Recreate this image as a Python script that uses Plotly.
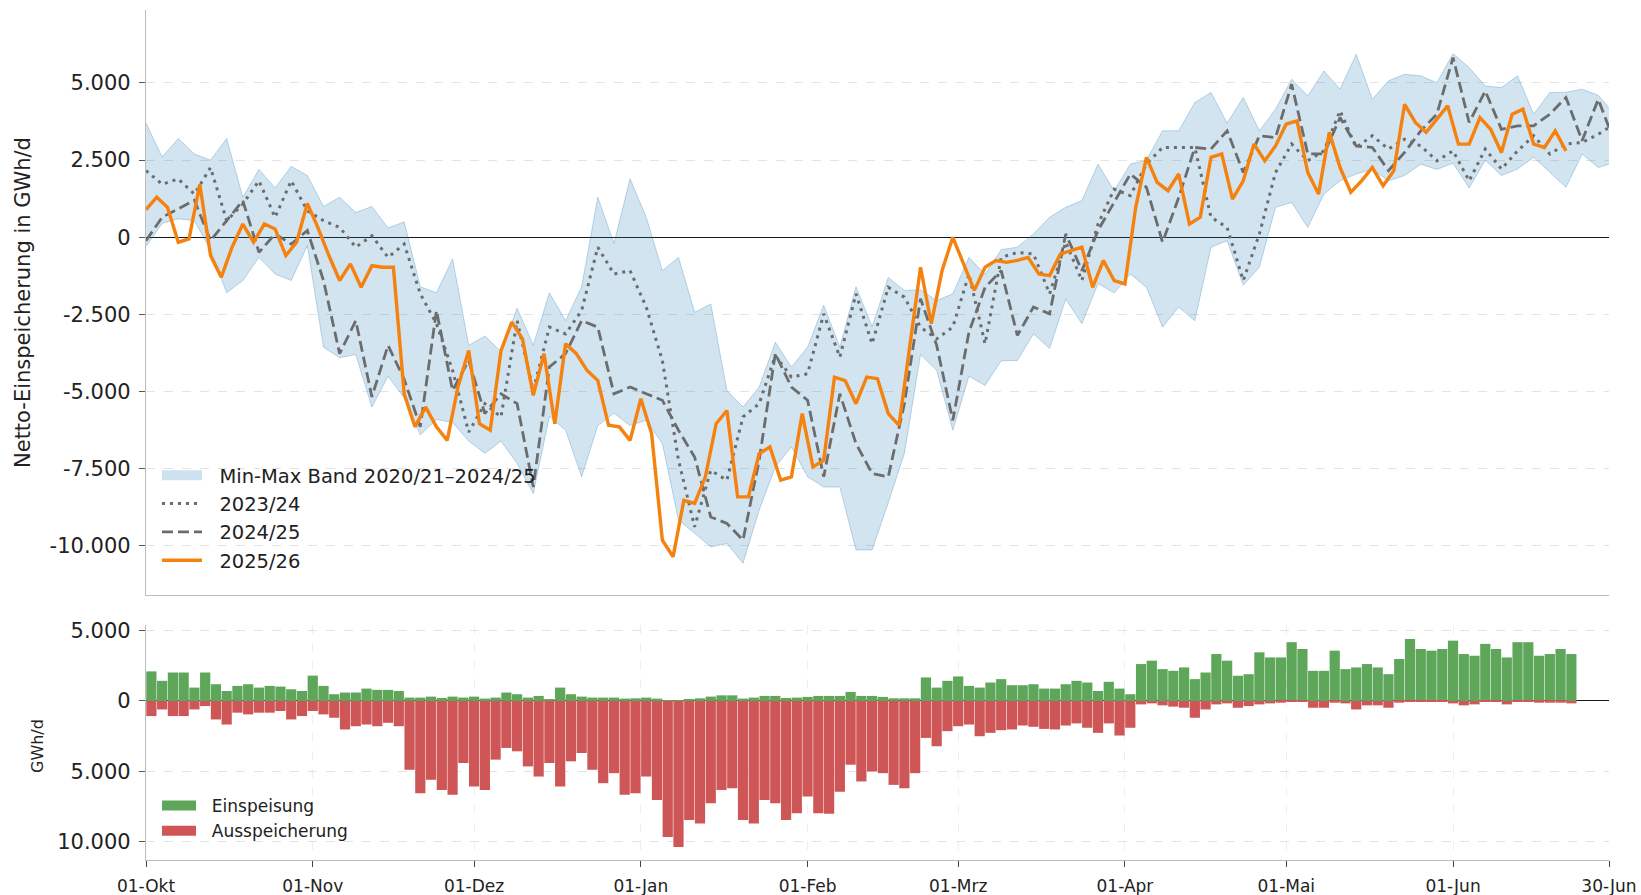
import pandas as pd
import plotly.graph_objects as go

# ---------------- data ----------------
season_start = "2025-10-01"
hist_days = list(range(0, 271, 3)) + [272]      # sampling of historic curves (days since 01-Okt)
cur_days = list(range(0, 265, 2))               # sampling of 2025/26 curve and bars

band_max = [3700, 2600, 3200, 2700, 2500, 3200, 1300, 2200, 1600, 2300, 2000, 1000, 1300, 800, 1000, 300,
            500, -1600, -1800, -700, -3500, -3200, -3700, -2300, -3500, -1800, -2700, -1600, 1300, -200, 1900,
            650, -1080, -650, -2430, -2160, -4960, -5500, -4850, -3400, -4200, -3560, -2200, -3560, -1600, -2900,
            -1300, -1720, -1700, -2050, -1830, -650, -1200, -400, -320, 110, 650, 970, 1190, 2370, 1510,
            2370, 2500, 3450, 3450, 4370, 4690, 3700, 4530, 3450, 4150, 5120, 4580, 5390, 4800, 5930,
            4470, 5070, 5280, 5230, 5010, 5950, 5500, 4900, 4850, 5230, 3990, 4690, 4700, 4800, 4600, 4200]

band_min = [-300, 450, 600, 540, -400, -1800, -1400, -650, -1190, -1400, -270, -3560, -3900, -3800, -5500, -4500,
            -5200, -6400, -5900, -6000, -6600, -7000, -6600, -7330, -8300, -5800, -6250, -7760, -6100, -5700, -6100,
            -5930, -6680, -9160, -9590, -10030, -9920, -10560, -8840, -7440, -6790, -7760, -8090, -8090, -10130, -10130,
            -8600, -7000, -3800, -4310, -6250, -4500, -4800, -4000, -3990, -3130, -3600, -2000, -2800, -1500, -1800,
            -1190, -1620, -2910, -2260, -2700, -320, -110, -1550, -970, 970, 1130, 320, 1400, 1830, 2050,
            2200, 1830, 2000, 2370, 2200, 2400, 1600, 2500, 2000, 2210, 2590, 2100, 1620, 2700, 2260, 2370]

y2023_24 = [2160, 1720, 1890, 1400, 2260, 540, 1080, 1830, 650, 1830, 860, 540, 320, -320, 50, -650,
            -220, -1830, -2800, -4310, -6310, -5390, -5820, -2700, -4960, -2910, -3130, -2370, -320, -1190, -1080,
            -2260, -3990, -7220, -9380, -7550, -7870, -5820, -5390, -3830, -4530, -4420, -2480, -3880, -1830, -3450,
            -1620, -1940, -2910, -3290, -2910, -1190, -3450, -650, -490, -540, -1830, -160, -1400, 430, 1560,
            1350, 2370, 2910, 2910, 2910, 650, 320, -1400, 110, 2100, 3020, 2480, 2800, 4100, 2910,
            3290, 2860, 3180, 2960, 2480, 2800, 1830, 2860, 2210, 2800, 3290, 2700, 3020, 3070, 3340, 3560]

y2024_25 = [-110, 650, 920, 1200, -110, 540, 1190, -490, 110, -220, 220, -1400, -3770, -2700, -5170, -3500,
            -4600, -6140, -2370, -4960, -3990, -5710, -5070, -5390, -8090, -4200, -3770, -2700, -2910, -5070, -4850,
            -5070, -5280, -6250, -7120, -9060, -9270, -9810, -7220, -3770, -4850, -5280, -7760, -5070, -6680, -7650,
            -7760, -5390, -1990, -3500, -5930, -3070, -1620, -1080, -3180, -2260, -2480, 110, -1080, 220, 1130,
            2050, 1620, -160, 1290, 2910, 2860, 3450, 2100, 3290, 3230, 4960, 2700, 2700, 3880, 2960,
            2910, 2160, 2750, 3450, 3990, 5820, 3720, 4740, 3500, 3610, 3610, 3990, 4530, 3130, 4470, 3560]

y2025_26 = [900, 1300, 970, -160, -50, 1720, -590, -1290, -320, 430, -160, 430, 270, -590, -160, 1100, 300, -590,
            -1400, -860, -1620, -920, -970,
            -970, -5070, -6140, -5500, -6140, -6580, -4850, -3670, -6040, -6250, -3670, -2750, -3290, -5120, -3770,
            -6040, -3450, -3770, -4310, -4640, -6090, -6140, -6580,
            -5230, -6360, -9810, -10350, -8520, -8620, -7760, -6040, -5610, -8410, -8410, -7010, -6790, -7870, -7760,
            -5710, -7440, -7220, -4530, -4640, -5390, -4530,
            -4580, -5710, -6090, -3560, -970, -2800, -1080, 0, -860, -1720, -970, -750, -810, -750, -650, -1190,
            -1240, -540, -430, -320, -1620, -750, -1400, -1510,
            970, 2590, 1780, 1510, 2050, 430, 650, 2590, 2700, 1240, 1830, 3020, 2480, 2960, 3670, 3770, 2100, 1400,
            3400, 2260, 1460, 1830, 2260,
            1670, 2160, 4310, 3720, 3400, 3830, 4260, 3020, 3020, 3880, 3500, 2750, 3990, 4150, 3020, 2910, 3450, 2800]

einspeisung = [2100, 1430, 2020, 2020, 950, 2020, 1190, 710, 1070, 1190, 950, 1070, 1020, 830, 710, 1800, 1070, 480,
               600, 600, 880, 790, 790,
               710, 240, 240, 310, 210, 310, 240, 310, 170, 240, 600, 480, 240, 360, 120, 950, 480, 310, 240, 240,
               240, 170, 190,
               240, 170, 70, 70, 120, 190, 310, 400, 400, 170, 240, 360, 360, 210, 240, 290, 360, 360, 360, 640,
               360, 360,
               290, 190, 190, 190, 1670, 950, 1430, 1740, 1070, 950, 1310, 1550, 1120, 1120, 1190, 880, 880, 1190,
               1430, 1310, 710, 1360, 880, 480,
               2620, 2860, 2260, 2140, 2380, 1550, 2020, 3330, 2860, 1790, 1900, 3450, 3090, 3090, 4170, 3690, 2140,
               2140, 3570, 2260, 2380, 2620, 2380,
               1900, 2980, 4400, 3690, 3570, 3690, 4280, 3330, 3210, 4050, 3690, 3090, 4170, 4170, 3210, 3330, 3690,
               3330]

ausspeicherung = [1070, 600, 1070, 1070, 600, 360, 1310, 1670, 830, 950, 830, 830, 710, 1310, 1070, 710, 950, 1190,
                  2020, 1790, 1670, 1790, 1550,
                  1790, 4880, 6550, 5590, 6310, 6660, 4400, 6070, 6310, 4160, 3330, 3570, 4640, 5360, 4400, 6070,
                  4280, 3690, 4880, 5830, 5120, 6660, 6550,
                  5360, 7020, 9640, 10350, 8450, 8690, 7260, 6310, 6190, 8450, 8690, 7020, 7260, 8450, 7970, 6780,
                  7970, 8000, 6430, 4520, 5710, 5000,
                  5120, 5950, 6190, 5120, 2620, 3210, 2140, 1790, 1670, 2500, 2260, 2070, 2020, 1740, 1830, 1980,
                  2020, 1740, 1590, 1900, 2260, 1590, 2450, 1900,
                  240, 170, 310, 400, 480, 1190, 600, 240, 170, 480, 360, 240, 170, 120, 70, 70, 480, 480, 120, 170,
                  600, 310, 310,
                  480, 120, 70, 70, 70, 70, 170, 310, 240, 70, 70, 240, 70, 70, 120, 120, 120, 170]

month_ticks = ["2025-10-01", "2025-11-01", "2025-12-01", "2026-01-01", "2026-02-01", "2026-03-01",
               "2026-04-01", "2026-05-01", "2026-06-01", "2026-06-30"]
month_labels = ["01-Okt", "01-Nov", "01-Dez", "01-Jan", "01-Feb", "01-Mrz", "01-Apr", "01-Mai", "01-Jun", "30-Jun"]
top_ticks = [5000, 2500, 0, -2500, -5000, -7500, -10000]
top_labels = ["5.000", "2.500", "0", "-2.500", "-5.000", "-7.500", "-10.000"]
bot_ticks = [5000, 0, -5000, -10000]
bot_labels = ["5.000", "0", "5.000", "10.000"]

# ---------------- figure ----------------
start = pd.Timestamp(season_start)
hx = start + pd.to_timedelta(hist_days, unit="D")
cx = start + pd.to_timedelta(cur_days, unit="D")
bx = cx + pd.Timedelta(days=1)
bar_w = 2 * 86400000 * 0.95

BLUE_EDGE = "rgba(31,119,180,0.28)"
BLUE_FILL = "rgba(31,119,180,0.2)"
GREY = "#6c6c6c"
ORANGE = "#f5820f"
GREEN = "#5ea65a"
RED = "#cf5656"
SP = "\u00a0\u00a0"   # small gap between legend symbol and label

fig = go.Figure()
fig.add_trace(go.Scatter(x=hx, y=band_min, mode="lines", line=dict(color=BLUE_EDGE, width=1),
                         showlegend=False, hoverinfo="skip"))
fig.add_trace(go.Scatter(x=hx, y=band_max, mode="lines", line=dict(color=BLUE_EDGE, width=1),
                         fill="tonexty", fillcolor=BLUE_FILL, showlegend=False,
                         name="Min-Max Band 2020/21–2024/25"))
fig.add_trace(go.Scatter(x=[None], y=[None], mode="lines", name=SP + "Min-Max Band 2020/21–2024/25",
                         line=dict(color="rgba(31,119,180,0.22)", width=16), legend="legend"))
fig.add_trace(go.Scatter(x=hx, y=y2023_24, mode="lines", name=SP + "2023/24",
                         line=dict(color=GREY, width=3, dash="3px,5px"), legend="legend"))
fig.add_trace(go.Scatter(x=hx, y=y2024_25, mode="lines", name=SP + "2024/25",
                         line=dict(color=GREY, width=2.8, dash="11px,5px"), legend="legend"))
fig.add_trace(go.Scatter(x=cx, y=y2025_26, mode="lines", name=SP + "2025/26",
                         line=dict(color=ORANGE, width=3.4), legend="legend"))

fig.add_trace(go.Bar(x=bx, y=einspeisung, width=bar_w, marker=dict(color=GREEN, line=dict(width=0)),
                     xaxis="x2", yaxis="y2", showlegend=False, name="Einspeisung"))
fig.add_trace(go.Bar(x=bx, y=[-v for v in ausspeicherung], width=bar_w, marker=dict(color=RED, line=dict(width=0)),
                     xaxis="x2", yaxis="y2", showlegend=False, name="Ausspeicherung"))
fig.add_trace(go.Scatter(x=[None], y=[None], mode="lines", name=SP + "Einspeisung", xaxis="x2", yaxis="y2",
                         line=dict(color=GREEN, width=16), legend="legend2"))
fig.add_trace(go.Scatter(x=[None], y=[None], mode="lines", name=SP + "Ausspeicherung", xaxis="x2", yaxis="y2",
                         line=dict(color=RED, width=16), legend="legend2"))

W, H = 1641, 895
ML, MR, MT, MB = 146, 32, 10, 35
PW, PH = W - ML - MR, H - MT - MB

def py(px):
    return (H - MB - px) / PH

def pxx(px):
    return (px - ML) / PW

x_range = [start, pd.Timestamp("2026-06-30")]
axis_line = "#bdbdbd"

fig.update_layout(
    width=W, height=H,
    margin=dict(l=ML, r=MR, t=MT, b=MB, autoexpand=False),
    plot_bgcolor="white", paper_bgcolor="white",
    font=dict(family="DejaVu Sans", size=17, color="#222222"),
    barmode="overlay",
    xaxis=dict(domain=[0, 1], anchor="y", type="date", range=x_range, showticklabels=False,
               ticks="", showgrid=False, showline=True, linecolor=axis_line, linewidth=1.3,
               zeroline=False, automargin=False),
    yaxis=dict(domain=[py(594.5), 1], anchor="x", range=[-11572, 7364], tickvals=top_ticks,
               ticktext=top_labels, ticks="outside", ticklen=6, tickcolor="#555555",
               showline=True, linecolor=axis_line, linewidth=1.3, showgrid=True,
               gridcolor="#e4e4e4", griddash="dash", gridwidth=1, zeroline=True,
               zerolinecolor="#1a1a1a", zerolinewidth=1.4, tickfont=dict(size=21),
               ticklabelstandoff=4, automargin=False),
    xaxis2=dict(domain=[0, 1], anchor="y2", type="date", range=x_range, matches="x",
                tickvals=month_ticks, ticktext=month_labels, ticks="outside", ticklen=6,
                tickcolor="#444444", showline=True, linecolor=axis_line, linewidth=1.3,
                showgrid=True, gridcolor="#efefef", griddash="dash", zeroline=False,
                tickfont=dict(size=17), ticklabelstandoff=4, automargin=False),
    yaxis2=dict(domain=[0, py(625)], anchor="x2", range=[-11280, 5390], tickvals=bot_ticks,
                ticktext=bot_labels, ticks="outside", ticklen=6, tickcolor="#555555",
                showline=True, linecolor=axis_line, linewidth=1.3, showgrid=True,
                gridcolor="#e4e4e4", griddash="dash", zeroline=True, zerolinecolor="#1a1a1a",
                zerolinewidth=1.4, tickfont=dict(size=21), ticklabelstandoff=4, automargin=False),
    legend=dict(x=pxx(157), y=py(456), xanchor="left", yanchor="top", bgcolor="rgba(0,0,0,0)",
                font=dict(size=19.5), tracegroupgap=0, itemwidth=40, traceorder="normal"),
    legend2=dict(x=pxx(157), y=py(788), xanchor="left", yanchor="top", bgcolor="rgba(0,0,0,0)",
                 font=dict(size=17), tracegroupgap=0, itemwidth=34, traceorder="normal"),
    annotations=[
        dict(text="Netto-Einspeicherung in GWh/d", xref="paper", yref="paper", x=pxx(23), y=py(303),
             textangle=-90, showarrow=False, xanchor="center", yanchor="middle", font=dict(size=21)),
        dict(text="GWh/d", xref="paper", yref="paper", x=pxx(37), y=py(746),
             textangle=-90, showarrow=False, xanchor="center", yanchor="middle", font=dict(size=16)),
    ],
)

fig.write_html("out.html", config={"displayModeBar": False},
               post_script="document.body.style.margin='0';document.body.style.overflow='hidden';")
